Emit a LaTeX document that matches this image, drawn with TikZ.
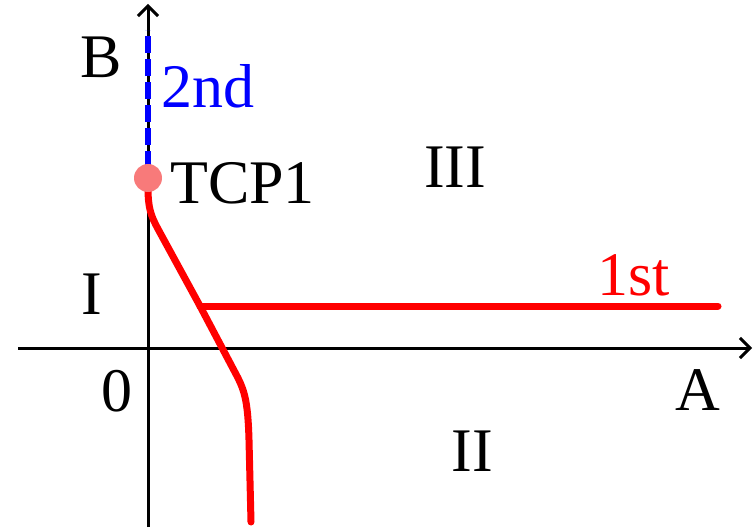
\documentclass[tikz,border=0pt]{standalone}
\usepackage{fontspec}
\setmainfont{Liberation Serif}
\usetikzlibrary{arrows.meta}
\definecolor{dotred}{RGB}{248,122,122}
\begin{document}
\begin{tikzpicture}[x=1pt,y=-1pt,
  axis/.style={line width=3pt,-{Straight Barb[length=10pt,width=20pt,line width=3pt]}},
  lbl/.style={font=\fontsize{62}{70}\selectfont,inner sep=0pt,anchor=base},
  redline/.style={red,line width=7pt,line cap=round,line join=round}]
\useasboundingbox (0,0) rectangle (756,532);
\coordinate (xs) at (18,348);
\coordinate (xe) at (752,348);
\coordinate (ys) at (148,527);
\coordinate (ye) at (148,4);
\draw[axis] (xs) -- (xe);
\draw[axis] (ys) -- (ye);
\coordinate (b1) at (148,30);
\coordinate (b2) at (148,168);
\draw[blue,line width=6pt,dash pattern=on 17pt off 6pt] (b2) -- (b1);
\coordinate (c0) at (148,188);
\coordinate (cx) at (200,306);
\coordinate (c3) at (251,522);
\coordinate (h2) at (718,306);
\draw[redline] (c0) .. controls (148,208) and (151,216) .. (158,229) -- (cx) -- (238,378) .. controls (245,392) and (248,404) .. (249,440) -- (c3);
\draw[redline] (cx) -- (h2);
\node[circle,fill=dotred,minimum size=28pt,inner sep=0pt] (tcp) at (148,178) {};
\node[lbl] (B) at (101,78) {B};
\node[lbl,blue,anchor=base west] (nd) at (161,108) {2nd};
\node[lbl,anchor=base west] (t1) at (170,204) {TCP1};
\node[lbl] (III) at (455,188) {III};
\node[lbl] (I) at (92,314) {I};
\node[lbl,red] (st) at (634,295) {1st};
\node[lbl] (zero) at (117,411) {0};
\node[lbl] (A) at (698,410) {A};
\node[lbl] (II) at (472,471) {II};
\end{tikzpicture}
\end{document}
